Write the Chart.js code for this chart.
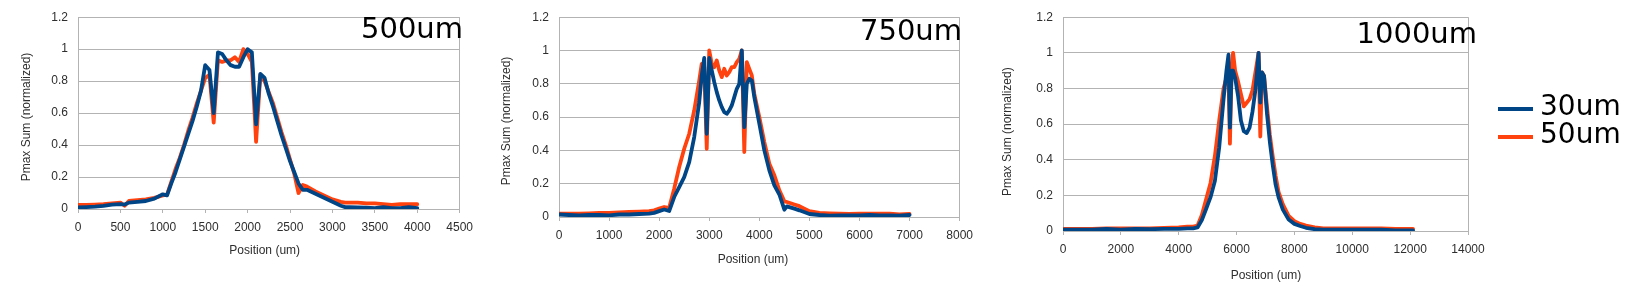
<!DOCTYPE html>
<html>
<head>
<meta charset="utf-8">
<script src="https://cdn.jsdelivr.net/npm/chart.js@4.4.1/dist/chart.umd.min.js"></script>
<style>
  html, body { margin: 0; padding: 0; background: #fff; }
  body { width: 1633px; height: 286px; position: relative; overflow: hidden; }
  canvas { position: absolute; top: 0; }
  .lg-line { position: absolute; left: 1498px; width: 35px; height: 4px; }
  .lg-text { position: absolute; left: 1540px; font-family: "DejaVu Sans"; font-size: 28px; line-height: 28px; color: #000; white-space: nowrap; }
</style>
</head>
<body>
<canvas id="c1" width="480" height="286" style="left:0px"></canvas>
<canvas id="c2" width="500" height="286" style="left:480px"></canvas>
<canvas id="c3" width="510" height="286" style="left:990px"></canvas>

<div class="lg-line" id="lgl0" style="top:107px"></div>
<div class="lg-text" id="lgt0" style="top:92px"></div>
<div class="lg-line" id="lgl1" style="top:135px"></div>
<div class="lg-text" id="lgt1" style="top:119.6px"></div>

<script>
// ---------- data ----------
const seriesNames = ['30um', '50um'];
const seriesColors = ['#004586', '#ff420e'];
const panelLabels = ['500um', '750um', '1000um'];
const xAxisTitle = 'Position (um)';
const yAxisTitle = 'Pmax Sum (normalized)';
const yTicks = [0, 0.2, 0.4, 0.6, 0.8, 1, 1.2];
const yTickLabels = ['0', '0.2', '0.4', '0.6', '0.8', '1', '1.2'];

// panel 1 (500um)
const xTicks1 = [0, 500, 1000, 1500, 2000, 2500, 3000, 3500, 4000, 4500];
const pos1 = [0,100,200,300,400,500,550,600,700,800,900,1000,1050,1100,1150,1200,1250,1300,1350,1400,1450,1500,1550,1600,1650,1700,1750,1800,1850,1900,1950,2000,2050,2100,2150,2200,2250,2300,2350,2400,2450,2500,2550,2600,2650,2700,2800,2900,3000,3100,3150,3200,3300,3400,3500,3600,3700,3800,3900,4000];
const a30_1 = [0.01,0.012,0.015,0.02,0.028,0.03, 0.028,0.04, 0.045,0.05,0.065,0.092,
  0.085,0.16,0.23,0.31,0.39,0.47,0.55,0.64,0.74,0.9,
  0.87,0.6,0.98,0.97,0.93,0.9,0.89,0.89,0.95,1.0,
  0.98,0.53,0.845,0.82,0.72,0.64,0.55,0.46,0.38,0.3,
  0.23,0.16,0.12,0.12,
  0.095,0.07,0.045,0.02,0.012,0.012,
  0.01,0.008,0.005,0.012,0.005,0.005,0.012,0.006];
const a50_1 = [0.025,0.025,0.028,0.03,0.035,0.04, 0.02,0.05, 0.055,0.06,0.07,0.085,
  0.09,0.17,0.25,0.32,0.4,0.49,0.57,0.66,0.74,0.82,
  0.84,0.54,0.93,0.92,0.93,0.93,0.95,0.92,1.0,0.97,
  0.92,0.42,0.84,0.8,0.73,0.66,0.57,0.48,0.4,0.31,
  0.22,0.1,0.15,0.14,
  0.11,0.085,0.06,0.045,0.04,0.04,
  0.04,0.035,0.035,0.03,0.025,0.03,0.03,0.03];

// panel 2 (750um)
const xTicks2 = [0, 1000, 2000, 3000, 4000, 5000, 6000, 7000, 8000];
const pos2 = [0,200,400,600,800,1000,1200,1400,1600,1800,1900,2000,2100,2200,2300,2400,2500,2600,2700,2800,2850,2900,2950,3000,3050,3100,3150,3200,3250,3300,3350,3400,3450,3500,3550,3600,3650,3700,3750,3800,3850,3900,4000,4100,4200,4300,4400,4500,4550,4700,4800,5000,5200,5400,5600,5800,6000,6200,6400,6600,6800,7000];
const a30_2 = [0.015,0.012,0.01,0.012,0.012,0.01,0.015,0.015,0.018,0.02,
  0.025,0.035,0.045,0.036,0.12,0.18,0.24,0.33,0.48,0.69,
  0.85,0.955,0.5,0.955,0.88,0.81,0.75,0.7,0.66,0.63,0.62,0.64,0.67,0.72,0.77,0.8,1.0,0.54,0.8,0.83,0.82,0.72,
  0.56,0.4,0.28,0.19,0.135,0.044,
  0.064,
  0.05,0.04,
  0.018,0.012,0.008,0.01,0.01,0.01,0.012,0.01,0.01,0.008,0.012];
const a50_2 = [0.02,0.02,0.02,0.022,0.025,0.025,0.028,0.03,0.032,0.035,
  0.04,0.05,0.06,0.055,0.17,0.3,0.41,0.5,0.64,0.82,
  0.92,0.9,0.41,1.0,0.92,0.9,0.94,0.88,0.84,0.89,0.85,0.87,0.9,0.9,0.93,0.95,1.0,0.39,0.93,0.89,0.85,0.74,
  0.6,0.45,0.32,0.25,0.16,0.094,
  0.09,
  0.075,0.065,
  0.035,0.025,0.022,0.02,0.018,0.02,0.02,0.02,0.02,0.015,0.018];

// panel 3 (1000um)
const xTicks3 = [0, 2000, 4000, 6000, 8000, 10000, 12000, 14000];
const pos3 = [0,500,1000,1500,2000,2500,3000,3500,4000,4300,4500,4650,4800,4950,5100,5250,5400,5550,5650,5720,5770,5830,5880,5950,6050,6150,6250,6350,6450,6550,6650,6710,6760,6820,6880,6950,7050,7150,7250,7350,7450,7600,7800,8000,8200,8400,8700,9000,9500,10000,10500,11000,11500,12000,12100];
const a30_3 = [0.008,0.008,0.008,0.012,0.008,0.012,0.01,0.012,0.012,
  0.015,0.015,
  0.02,0.062,0.125,0.19,0.28,0.47,0.74,
  0.9,0.99,0.58,0.9,0.9,0.86,
  0.76,0.62,0.56,0.55,0.58,0.67,0.79,
  0.9,1.0,0.72,0.89,0.87,
  0.66,0.5,0.37,0.26,0.19,
  0.12,0.065,0.04,0.028,0.018,
  0.01,0.008,
  0.008,0.008,0.008,0.008,0.004,0.004,
  0.004];
const a50_3 = [0.012,0.012,0.012,0.015,0.015,0.015,0.015,0.018,0.02,
  0.025,0.025,
  0.03,0.09,0.18,0.27,0.42,0.62,0.8,
  0.86,0.88,0.49,0.93,1.0,0.9,
  0.84,0.77,0.7,0.72,0.74,0.79,0.89,
  0.95,1.0,0.53,0.89,0.87,
  0.7,0.54,0.42,0.31,0.22,
  0.15,0.085,0.055,0.04,0.03,
  0.02,0.015,
  0.014,0.014,0.014,0.015,0.012,0.012,
  0.012];

// ---------- drawing ----------
const gridColor = '#b3b3b3';
const textColor = '#2e2e2e';
const tickFont = { family: '"Liberation Sans", Arial, sans-serif', size: 12 };

const panelText = {
  id: 'panelText',
  afterDraw(chart, args, o) {
    const c = chart.ctx;
    c.save();
    c.fillStyle = textColor;
    c.font = '12px "Liberation Sans", Arial, sans-serif';
    c.textAlign = 'center';
    c.textBaseline = 'middle';
    c.fillText(o.xTitle, o.xtx, o.xty);
    c.save();
    c.translate(o.ytx, o.yty);
    c.rotate(-Math.PI / 2);
    c.fillText(o.yTitle, 0, 0);
    c.restore();
    c.fillStyle = '#000';
    c.font = '29px "DejaVu Sans"';
    c.textAlign = 'right';
    c.textBaseline = 'alphabetic';
    c.fillText(o.label, o.lx, o.ly);
    c.restore();
  }
};

function makeChart(id, xs, y30, y50, xTicks, cfg) {
  const xMax = xTicks[xTicks.length - 1];
  const mk = (ys) => xs.map((x, i) => ({ x: x, y: ys[i] }));
  return new Chart(document.getElementById(id), {
    type: 'line',
    data: {
      datasets: [
        { label: seriesNames[0], data: mk(y30), borderColor: seriesColors[0], backgroundColor: seriesColors[0],
          borderWidth: 3.8, pointRadius: 0, tension: 0, borderJoinStyle: 'round', borderCapStyle: 'round', fill: false },
        { label: seriesNames[1], data: mk(y50), borderColor: seriesColors[1], backgroundColor: seriesColors[1],
          borderWidth: 3.8, pointRadius: 0, tension: 0, borderJoinStyle: 'round', borderCapStyle: 'round', fill: false }
      ]
    },
    options: {
      responsive: false,
      animation: false,
      events: [],
      layout: { padding: { left: 0, top: cfg.top, right: cfg.right, bottom: 0 } },
      plugins: {
        legend: { display: false },
        tooltip: { enabled: false },
        panelText: {
          xTitle: xAxisTitle, yTitle: yAxisTitle, label: cfg.label,
          xtx: cfg.xtx, xty: cfg.xty, ytx: cfg.ytx, yty: cfg.yty, lx: cfg.lx, ly: cfg.ly
        }
      },
      scales: {
        x: {
          type: 'linear',
          min: xTicks[0],
          max: xMax,
          afterBuildTicks: (s) => { s.ticks = xTicks.map(v => ({ value: v })); },
          afterFit: (s) => { s.height = cfg.xh; },
          grid: {
            color: (c) => (c.tick && c.tick.value === xMax) ? gridColor : 'rgba(0,0,0,0)',
            lineWidth: 1,
            drawTicks: true,
            tickLength: 4,
            tickColor: gridColor
          },
          border: { display: true, color: gridColor, width: 1 },
          ticks: {
            font: tickFont, color: textColor, padding: 7,
            maxRotation: 0, minRotation: 0, autoSkip: false,
            callback: (v, i) => String(xTicks[i])
          }
        },
        y: {
          min: 0,
          max: 1.2,
          afterBuildTicks: (s) => { s.ticks = yTicks.map(v => ({ value: v })); },
          afterFit: (s) => { s.width = cfg.yw; },
          grid: { color: gridColor, lineWidth: 1, drawTicks: false },
          border: { display: true, color: gridColor, width: 1 },
          ticks: {
            font: tickFont, color: textColor, padding: 10,
            callback: (v, i) => yTickLabels[i]
          }
        }
      }
    },
    plugins: [panelText]
  });
}

makeChart('c1', pos1, a30_1, a50_1, xTicks1,
  { top: 9.3, right: 15, xh: 77, yw: 78, label: panelLabels[0],
    xtx: 264.7, xty: 251, ytx: 27, yty: 117, lx: 463, ly: 38.3 });
makeChart('c2', pos2, a30_2, a50_2, xTicks2,
  { top: 9.3, right: 19, xh: 69, yw: 79, label: panelLabels[1],
    xtx: 273, xty: 260, ytx: 26.7, yty: 121, lx: 482, ly: 40 });
makeChart('c3', pos3, a30_3, a50_3, xTicks3,
  { top: 15, right: 32, xh: 55, yw: 73, label: panelLabels[2],
    xtx: 276, xty: 276, ytx: 18, yty: 131.7, lx: 487, ly: 43.3 });

// legend
for (let i = 0; i < seriesNames.length; i++) {
  document.getElementById('lgl' + i).style.background = seriesColors[i];
  document.getElementById('lgt' + i).textContent = seriesNames[i];
}
</script>
</body>
</html>
